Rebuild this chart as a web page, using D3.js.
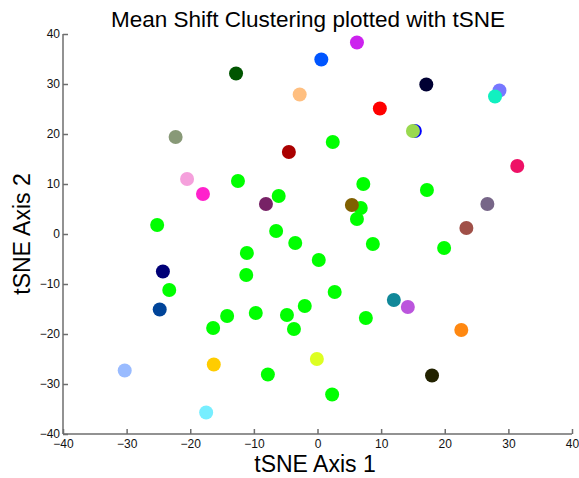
<!DOCTYPE html>
<html>
<head>
<meta charset="utf-8">
<script src="https://cdn.jsdelivr.net/npm/d3@7"></script>
<style>
  body { margin: 0; background: #fff; }
  svg text { font-family: "Liberation Sans", Arial, Helvetica, sans-serif; }
  .axis path, .axis line { stroke: #6e6e6e; stroke-width: 1.5px; }
  .axis text { font-size: 12px; fill: #111; }
</style>
</head>
<body>
<div id="chart"></div>
<script>
// data (tSNE coordinates + cluster colour)
var xs = [6.2, 0.6, -12.8, -2.8, 17.1, 28.6, 27.9, 9.8, 15.3, 15.0,
          -22.3, -4.5, 2.4, -20.5, -18.0, 31.4, -12.5, 7.2, 17.2, -8.1,
          -6.1, 6.8, 6.2, 5.4, 26.7, 23.4, -25.2, -6.5, -3.5, 0.2,
          8.7, 19.9, -11.1, -24.3, -11.2, -23.3, 2.7, -24.8, -14.2, -9.7,
          -4.8, -2.0, 12.0, 14.2, 7.6, -16.4, -3.7, 22.6, -0.1, -16.3,
          -30.3, -7.8, 18.0, 2.3, -17.5];
var ys = [38.3, 34.9, 32.1, 27.9, 29.9, 28.7, 27.5, 25.1, 20.6, 20.6,
          19.4, 16.4, 18.4, 11.0, 8.0, 13.6, 10.6, 10.0, 8.8, 6.0,
          7.6, 5.2, 3.0, 5.8, 6.0, 1.2, 1.8, 0.6, -1.8, -5.2,
          -2.0, -2.8, -3.8, -7.5, -8.2, -11.2, -11.6, -15.1, -16.4, -15.8,
          -16.2, -14.4, -13.2, -14.6, -16.8, -18.8, -19.0, -19.2, -25.0, -26.1,
          -27.3, -28.1, -28.3, -32.1, -35.7];
var colors = ['#cc22ee', '#0055ff', '#005500', '#ffbf80', '#000033', '#7777ff', '#11f0c0', '#ff0000', '#0000ff', '#99d94f',
              '#889977', '#aa0000', '#00ff00', '#f5a0dc', '#ff22cc', '#ee1166', '#00ff00', '#00ff00', '#00ff00', '#772266',
              '#00ff00', '#00ff00', '#00ff00', '#806000', '#776688', '#a05048', '#00ff00', '#00ff00', '#00ff00', '#00ff00',
              '#00ff00', '#00ff00', '#00ff00', '#000077', '#00ff00', '#00ff00', '#00ff00', '#004499', '#00ff00', '#00ff00',
              '#00ff00', '#00ff00', '#118899', '#bb55dd', '#00ff00', '#00ff00', '#00ff00', '#ff8811', '#ddff22', '#ffcc00',
              '#99bbff', '#00ff00', '#222200', '#00ff00', '#77eeff'];
var xTicks = [-40, -30, -20, -10, 0, 10, 20, 30, 40];
var yTicks = [-40, -30, -20, -10, 0, 10, 20, 30, 40];

const WIDTH = 579;
const HEIGHT = 478;
const margin = {left: 63, right: 7, top: 34, bottom: 44};

var svg = d3.select('#chart').append('svg')
            .attr('width', WIDTH)
            .attr('height', HEIGHT);

var x = d3.scaleLinear().domain([-40, 40]).range([margin.left, WIDTH - margin.right]);
var y = d3.scaleLinear().domain([-40, 40]).range([HEIGHT - margin.bottom, margin.top]);

// bottom axis, ticks pointing inwards
var xAxis = svg.append('g')
               .classed('axis', true)
               .attr('transform', 'translate(0,' + y(-40) + ')')
               .call(d3.axisBottom(x).tickValues(xTicks).tickSize(-5).tickPadding(5));
xAxis.select('.domain').attr('d', 'M' + x(-40) + ',0H' + x(40));

var yAxis = svg.append('g')
               .classed('axis', true)
               .attr('transform', 'translate(' + x(-40) + ',0)')
               .call(d3.axisLeft(y).tickValues(yTicks).tickSize(-5).tickPadding(3));
yAxis.select('.domain').attr('d', 'M0,' + y(-40) + 'V' + y(40));

// points
var pts = d3.range(xs.length).map(i => ({x: xs[i], y: ys[i], c: colors[i]}));
svg.selectAll('circle.pt').data(pts)
   .enter()
   .append('circle')
   .classed('pt', true)
   .attr('cx', d => x(d.x))
   .attr('cy', d => y(d.y))
   .attr('r', 7)
   .attr('fill', d => d.c);

// labels
svg.append('text')
   .attr('x', 308).attr('y', 27)
   .attr('text-anchor', 'middle')
   .style('font-size', '22.5px')
   .text('Mean Shift Clustering plotted with tSNE');

svg.append('text')
   .attr('x', 315).attr('y', 472)
   .attr('text-anchor', 'middle')
   .style('font-size', '23px')
   .text('tSNE Axis 1');

svg.append('text')
   .attr('transform', 'translate(30,' + y(0) + ') rotate(-90)')
   .attr('text-anchor', 'middle')
   .style('font-size', '23px')
   .text('tSNE Axis 2');
</script>
</body>
</html>
